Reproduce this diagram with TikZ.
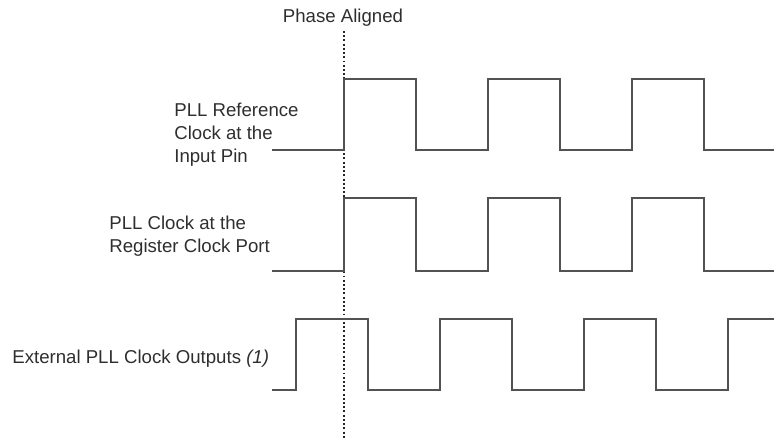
\documentclass[tikz,border=0pt]{standalone}
\usepackage{fontspec}
\setmainfont{Liberation Sans}
\begin{document}
\begin{tikzpicture}[x=0.02cm,y=-0.02cm,
                    wave/.style={draw=black!68,line width=0.85pt},
                    phase line/.style={draw=black!85,line width=0.6pt,dash pattern=on 1.1pt off 1.3pt},
                    main label/.style={anchor=base west,align=left,inner sep=0pt,text=black!82,
                                       font=\fontsize{10.6}{13.1}\selectfont}
                   ]
  \useasboundingbox (0,0) rectangle (774,438);

  % phase reference
  \node[main label,anchor=base] (phase) at (343,23) {Phase Aligned};
  \draw[phase line] (344,31) -- (344,438);

  % signal names (base = last line)
  \node[main label] (ref) at (174,163) {PLL Reference\\Clock at the\\Input Pin};
  \node[main label] (reg) at (109,253) {PLL Clock at the\\Register Clock Port};
  \node[main label] (ext) at (12,364) {External PLL Clock Outputs \textit{(1)}};

  % waveforms
  \draw[wave] (272,150) foreach \x in {344,488,632} { -- (\x,150) -- (\x,79) -- (\x+72,79) -- (\x+72,150) } -- (774,150);
  \draw[wave] (272,271) foreach \x in {344,488,632} { -- (\x,271) -- (\x,198) -- (\x+72,198) -- (\x+72,271) } -- (774,271);
  \draw[wave] (272,390) foreach \x in {296,440,584} { -- (\x,390) -- (\x,319) -- (\x+72,319) -- (\x+72,390) }
              -- (728,390) -- (728,319) -- (774,319);
\end{tikzpicture}
\end{document}
